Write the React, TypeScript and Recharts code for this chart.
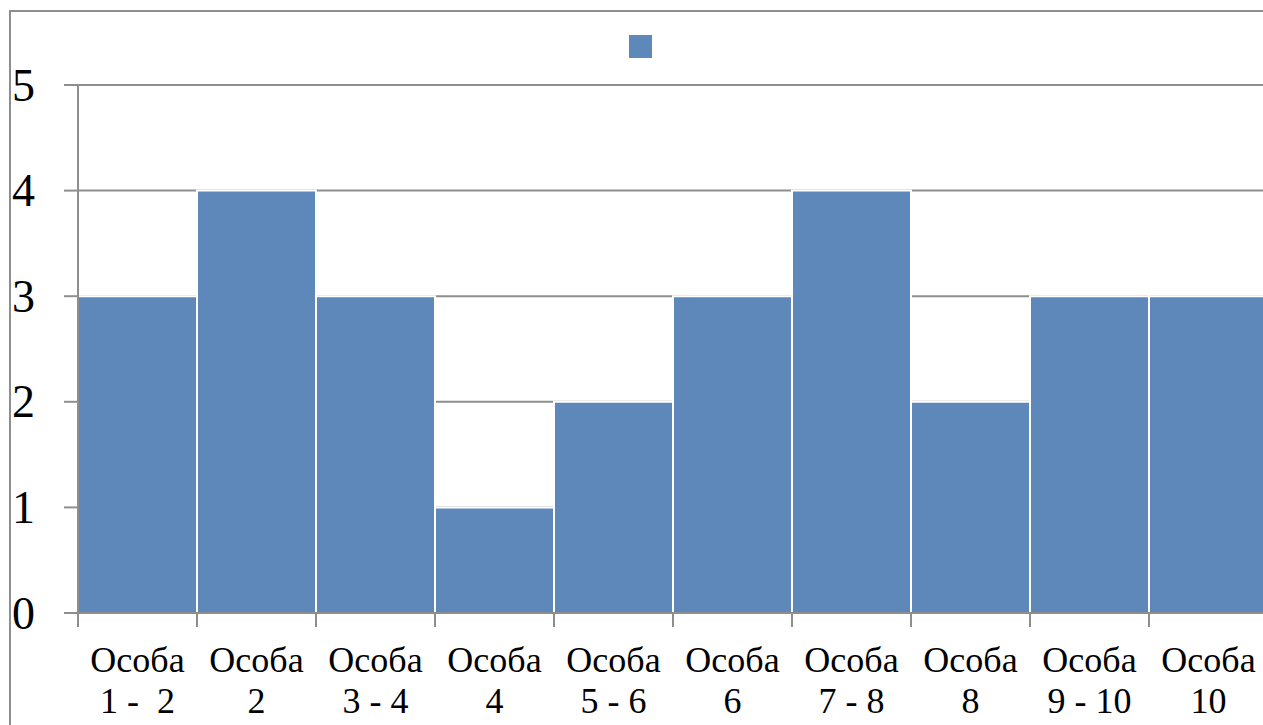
import { BarChart, Bar, XAxis, YAxis, CartesianGrid, Legend } from "recharts"

const categories = ["Особа\n1 -  2", "Особа\n2", "Особа\n3 - 4", "Особа\n4", "Особа\n5 - 6", "Особа\n6", "Особа\n7 - 8", "Особа\n8", "Особа\n9 - 10", "Особа\n10"]
const values = [3, 4, 3, 1, 2, 3, 4, 2, 3, 3]
const yTicks = [0, 1, 2, 3, 4, 5]

const data = categories.map((name, i) => ({ name, value: values[i] }))

const GREY = "#8e8e8e"
const BAR = "#5e87ba"
const FONT = "Liberation Serif, Times New Roman, serif"

function CategoryTick(props: any) {
  const { x, y, payload } = props
  const half = payload?.offset ?? 0
  const [top, bottom] = String(payload.value).split("\n")
  return (
    <g>
      <line x1={x - half} x2={x - half} y1={y} y2={y + 14} stroke={GREY} strokeWidth={2} />
      <text x={x} textAnchor="middle" fontSize={36} fill="#000" style={{ whiteSpace: "pre", fontFamily: FONT }}>
        <tspan x={x} y={y + 59}>{top}</tspan>
        <tspan x={x} y={y + 100}>{bottom}</tspan>
      </text>
    </g>
  )
}

function ValueTick(props: any) {
  const { x, y, payload } = props
  return (
    <text x={x} y={y} dy="0.34em" textAnchor="end" fontSize={46} fill="#000" style={{ fontFamily: FONT }}>
      {payload.value}
    </text>
  )
}

function LegendSquare() {
  return <div style={{ width: 23, height: 23, background: BAR }} />
}

export default function App() {
  return (
    <div style={{ position: "absolute", left: 0, top: 0, width: 1263, height: 725, overflow: "hidden", background: "#fff" }}>
      <div
        style={{
          position: "absolute",
          left: 9,
          top: 10,
          width: 1400,
          height: 900,
          border: `2px solid ${GREY}`,
          boxSizing: "border-box",
        }}
      />
      <BarChart
        width={1282}
        height={725}
        data={data}
        margin={{ top: 85, right: 14, bottom: 12, left: 0 }}
        barCategoryGap={0}
        style={{ position: "absolute", left: 0, top: 0 }}
      >
        <CartesianGrid vertical={false} stroke={GREY} strokeWidth={2} />
        <XAxis
          dataKey="name"
          interval={0}
          height={100}
          tickSize={0}
          tickMargin={0}
          tickLine={false}
          axisLine={{ stroke: GREY, strokeWidth: 2 }}
          tick={<CategoryTick />}
        />
        <YAxis
          domain={[0, 5]}
          ticks={yTicks}
          width={78}
          tickSize={14}
          tickMargin={29}
          axisLine={{ stroke: GREY, strokeWidth: 2 }}
          tickLine={{ stroke: GREY, strokeWidth: 2 }}
          tick={<ValueTick />}
        />
        <Legend
          layout="horizontal"
          verticalAlign="middle"
          align="center"
          wrapperStyle={{ top: 35, left: 629, width: 23 }}
          content={<LegendSquare />}
        />
        <Bar dataKey="value" fill={BAR} stroke="#fff" strokeWidth={2} isAnimationActive={false} />
      </BarChart>
    </div>
  )
}
